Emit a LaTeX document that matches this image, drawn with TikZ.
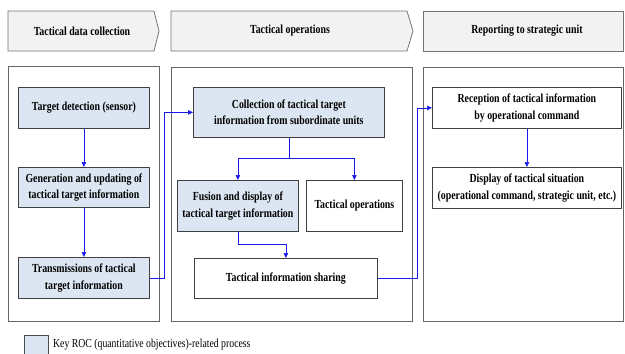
\documentclass[tikz,border=0pt]{standalone}
\usepackage{fontspec}
\setmainfont{Liberation Serif}[FakeStretch=0.8]
\usetikzlibrary{arrows.meta}
\definecolor{rocblue}{RGB}{220,230,242}
\definecolor{linkblue}{RGB}{25,25,235}
\definecolor{hdrfill}{RGB}{242,242,242}
\begin{document}
\begin{tikzpicture}[x=1pt,y=-1pt,
  hdr/.style={draw=black!55, fill=hdrfill, line width=0.8pt},
  hdrtext/.style={font=\fontsize{12.3}{14}\selectfont\bfseries, inner sep=0},
  panel/.style={draw=black!60, line width=0.9pt},
  roc/.style={draw=black!75, fill=rocblue, line width=0.8pt, inner sep=0, align=center, anchor=north west, font=\fontsize{12.3}{16.5}\selectfont\bfseries},
  plainbox/.style={roc, fill=white},
  conn/.style={draw=linkblue, line width=0.7pt, -{Triangle[length=5pt,width=4.5pt]}},
]
\useasboundingbox (0,0) rectangle (625,354);
\clip (0,0) rectangle (625,354);
% headers
\draw[hdr] (8,11) -- (154,11) -- (159,31) -- (154,51) -- (8,51) -- cycle;
\node[hdrtext] (h1) at (82,31) {Tactical data collection};
\draw[hdr] (171,11) -- (407,11) -- (413,31) -- (407,51) -- (171,51) -- cycle;
\node[hdrtext] (h2) at (290,31) {Tactical operations};
\draw[hdr] (423,11) rectangle (623.5,51);
\node[hdrtext] (h3) at (527,31) {Reporting to strategic unit};
% panels
\draw[panel] (8,66) rectangle (159,321);
\draw[panel] (171,67) rectangle (412,321);
\draw[panel] (423,67) rectangle (623.5,321);
% nodes
\node[roc, minimum width=131, minimum height=41] (td) at (18,87) {Target detection (sensor)};
\node[roc, minimum width=131, minimum height=40] (gen) at (18,167) {Generation and updating of\\tactical target information};
\node[roc, minimum width=131, minimum height=41] (tx) at (18,257) {Transmissions of tactical\\target information};
\node[roc, minimum width=191, minimum height=50] (col) at (193,87) {Collection of tactical target\\information from subordinate units};
\node[roc, minimum width=121, minimum height=51] (fus) at (177,180) {Fusion and display of\\tactical target information};
\node[plainbox, minimum width=96, minimum height=51] (ops) at (306,180) {Tactical operations};
\node[plainbox, minimum width=183, minimum height=40] (shr) at (194,258) {Tactical information sharing};
\node[plainbox, minimum width=189, minimum height=41] (rec) at (432,87) {Reception of tactical information\\by operational command};
\node[plainbox, minimum width=189, minimum height=41] (dis) at (432,167) {Display of tactical situation\\(operational command, strategic unit, etc.)};
% connectors
\draw[conn] (td) -- (gen);
\draw[conn] (gen) -- (tx);
\draw[conn] (tx.east) -- ++(15,0) |- (col.west);
\draw[draw=linkblue, line width=0.7pt] (col.south) -- ++(0,21) coordinate (j1);
\draw[conn] (j1) -| (fus.north);
\draw[conn] (j1) -| (ops.north);
\draw[conn] (fus.south) -- ++(0,13) -| (shr.north);
\draw[conn] (shr.east) -- ++(40,0) |- (rec.west);
\draw[conn] (rec) -- (dis);
% legend
\draw[draw=black!70, fill=rocblue, line width=0.8pt] (24,335) rectangle (48,360);
\node[anchor=west, inner sep=0, font=\fontsize{12.2}{14}\selectfont] (leg) at (53,345) {Key ROC (quantitative objectives)-related process};
\end{tikzpicture}
\end{document}
